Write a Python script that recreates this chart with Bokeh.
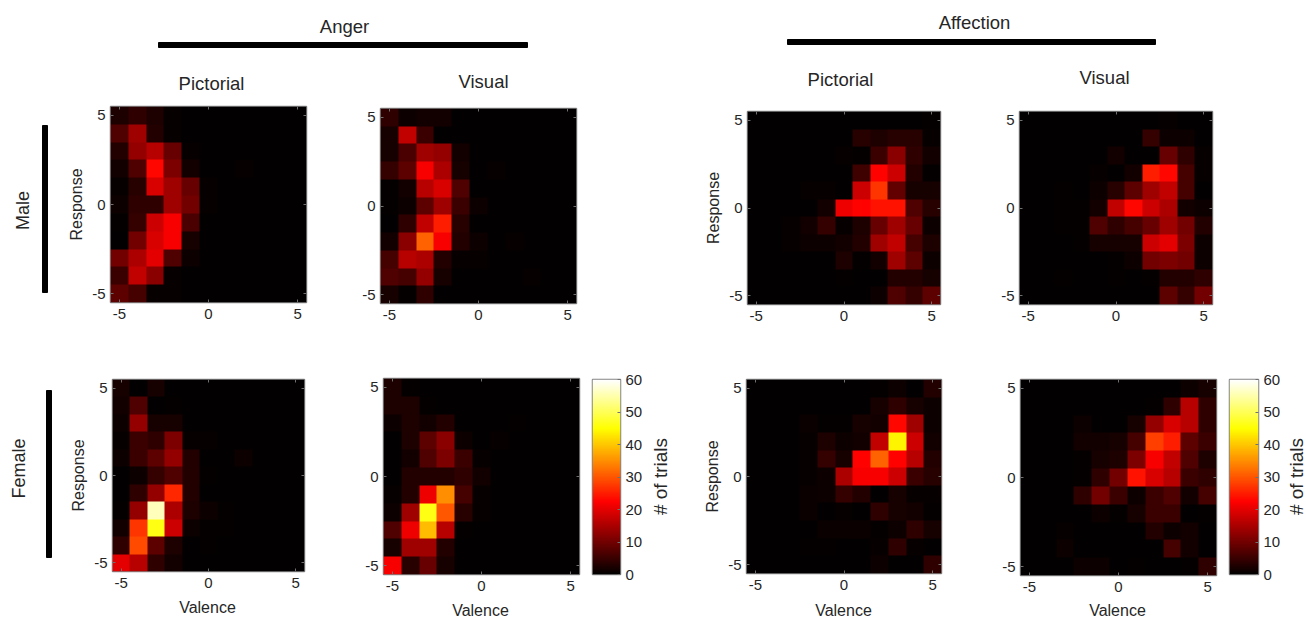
import numpy as np
from bokeh.plotting import figure
from bokeh.layouts import row, column
from bokeh.models import LinearColorMapper, FixedTicker, Label, Spacer, LinearAxis
from bokeh.embed import file_html
from bokeh.resources import INLINE

# rows run from response +5 (top) to -5 (bottom); columns from valence -5 to +5
anger_male_pictorial = [
    [2.5, 4, 2.5, 0.5, 0, 0, 0, 0, 0, 0, 0],
    [7, 14, 3, 0.5, 0, 0, 0, 0, 0, 0, 0],
    [3, 13, 16, 9, 0.5, 0, 0, 0, 0, 0, 0],
    [1.5, 7, 23, 11, 1.5, 0, 0, 0.5, 0, 0, 0],
    [0.5, 3.5, 19, 14, 9, 0.5, 0, 0, 0, 0, 0],
    [1, 4, 4, 14, 10, 0.5, 0, 0, 0, 0, 0],
    [0.3, 4.5, 18, 22, 6.5, 0, 0, 0, 0, 0, 0],
    [0.2, 10, 19, 22, 2, 0, 0, 0, 0, 0, 0],
    [10, 15, 20, 7, 1, 0, 0, 0, 0, 0, 0],
    [5, 17, 12, 0.5, 0, 0, 0, 0, 0, 0, 0],
    [8, 6, 0.5, 0.5, 0, 0, 0, 0, 0, 0, 0],
]
anger_male_visual = [
    [4, 1, 1.5, 1.5, 0, 0, 0, 0, 0, 0, 0],
    [2, 17, 5, 0, 0, 0, 0, 0, 0, 0, 0],
    [2, 6.5, 14, 13, 1.5, 0, 0, 0, 0, 0, 0],
    [4.5, 8, 22, 15, 2, 0, 0.5, 0, 0, 0, 0],
    [0.3, 1.5, 16, 19, 7, 0, 0, 0, 0, 0, 0],
    [0.3, 1, 8, 14, 5, 1, 0, 0, 0, 0, 0],
    [0, 4, 17, 25, 3.5, 0, 0, 0, 0, 0, 0],
    [1.5, 12, 31, 22, 3, 1, 0, 0.5, 0, 0, 0],
    [6, 16, 15, 3, 0.5, 0.5, 0, 0, 0, 0, 0],
    [7, 6, 13, 2, 0, 0, 0, 0, 0.5, 0, 0],
    [2, 0.3, 4, 0, 0, 0, 0, 0, 0, 0, 0],
]
affection_male_pictorial = [
    [0, 0, 0, 0, 0, 0, 0, 0, 0, 0, 0.3],
    [0, 0, 0, 0, 0, 0, 3.5, 2.5, 3.5, 3.5, 0.5],
    [0, 0, 0, 0, 0, 0.5, 0.3, 5, 12, 4, 1.5],
    [0, 0, 0, 0, 0, 0, 5.5, 22.5, 18, 3, 0.3],
    [0, 0, 0, 0.5, 0.5, 0.2, 18, 27, 8.5, 2, 2],
    [0, 0, 0, 0, 1.5, 21, 22.5, 24, 24, 7, 3.5],
    [0, 0, 0.5, 1.5, 4.5, 0.5, 2.5, 9, 14, 9, 1],
    [0, 0, 0.5, 1, 1, 1.5, 3, 14, 17, 6, 2.5],
    [0, 0, 0, 0, 0, 2.5, 0.3, 1.5, 14, 8, 1],
    [0, 0, 0, 0, 0, 0.3, 0, 0, 3, 3, 2],
    [0, 0, 0, 0, 0, 0, 0, 1, 7, 4.5, 8],
]
affection_male_visual = [
    [0, 0, 0, 0, 0, 0, 0, 0, 0.5, 0, 0],
    [0, 0, 0, 0, 0, 0, 0, 4.5, 1, 1, 0.2],
    [0, 0, 0, 0, 0, 1.5, 0, 0, 9, 4, 0.5],
    [0, 0, 0, 0, 0.5, 0.2, 1.5, 25, 23, 6, 0.5],
    [0, 0, 0.3, 0, 1, 3.5, 8, 14, 17, 6, 0.1],
    [0, 0, 0.3, 0.3, 1.5, 17, 23, 18, 15, 1.5, 1],
    [0, 0, 0.3, 0.3, 7, 4, 6, 9, 14, 10, 3],
    [0, 0, 0, 0.3, 2, 2, 2, 18, 20, 11, 1],
    [0, 0, 0, 0, 0, 0.3, 1, 10, 11, 10, 1],
    [0, 0, 0.3, 0, 0, 0.3, 0, 0.3, 3, 3, 4],
    [0, 0, 0, 0, 0, 0, 0, 0, 8, 4.5, 10],
]
anger_female_pictorial = [
    [2, 0, 2, 0, 0, 0, 0, 0, 0, 0, 0],
    [1.5, 7, 0, 0.3, 0, 0, 0, 0, 0, 0, 0],
    [1, 13, 2, 2, 0, 0, 0, 0, 0, 0, 0],
    [0.5, 5, 4, 11, 0.7, 0.5, 0, 0, 0, 0, 0],
    [1, 5, 8, 13, 3, 0, 0, 1, 0, 0, 0],
    [0, 1, 4.5, 7, 3, 0.3, 0, 0, 0, 0, 0],
    [0, 4, 13, 26, 3, 0, 0, 0, 0, 0, 0],
    [0.3, 13, 56, 15, 2.5, 1, 0.4, 0, 0, 0, 0],
    [1.5, 27, 46, 18, 1, 0.3, 0.3, 0, 0, 0, 0],
    [4, 29, 8, 2.5, 0, 0.3, 0, 0, 0, 0, 0],
    [20, 16, 4, 1.5, 0, 0, 0, 0, 0, 0, 0],
]
anger_female_visual = [
    [2.5, 0.4, 0, 0, 0, 0, 0, 0, 0, 0, 0],
    [2.5, 2.5, 0.3, 0, 0, 0, 0, 0, 0, 0, 0],
    [1, 2.5, 1.5, 3, 0, 0, 0, 0.3, 0, 0, 0],
    [0, 2.5, 8, 12, 1, 0, 0.5, 0, 0, 0, 0],
    [0, 1.5, 7, 11, 5, 0.7, 0, 0, 0, 0, 0],
    [0.2, 3, 3, 3, 4, 1.5, 0, 0, 0, 0, 0],
    [0.5, 3, 21, 35, 6, 0.5, 0, 0, 0, 0, 0],
    [1, 14, 46, 30, 3.5, 0.5, 0, 0, 0, 0, 0],
    [7, 21, 39, 16, 0.3, 0, 0, 0, 0, 0, 0],
    [2, 14, 14, 3, 0, 0, 0, 0, 0, 0, 0],
    [22, 3.5, 9, 2, 0, 0, 0, 0, 0, 0, 0],
]
affection_female_pictorial = [
    [0, 0, 0, 0, 0, 0, 0, 0.3, 1, 0.2, 3],
    [0, 0, 0.2, 0, 0, 0.2, 0.2, 2, 4, 2, 1],
    [0, 0, 0, 0.8, 0.3, 0.3, 2, 1.5, 23, 14, 1],
    [0, 0, 0.2, 0.5, 2.5, 1, 1.5, 17, 44, 18, 1.5],
    [0, 0, 0.2, 0.7, 4.5, 2, 22.5, 31, 22.5, 16, 3],
    [0, 0, 0, 0.7, 1, 15, 22, 22, 18, 5, 3.5],
    [0, 0, 0, 0.8, 1, 4.5, 3, 0, 2, 0.7, 0.7],
    [0, 0, 0, 0.8, 0.2, 0.7, 0.2, 4, 2, 1.5, 0.3],
    [0, 0, 0, 0, 0.8, 0.8, 0.8, 0.3, 1, 4, 2],
    [0, 0, 0.2, 0.3, 0.3, 0, 0, 0.7, 4, 0.7, 0],
    [0, 0, 0, 0.2, 0.2, 0, 0, 1, 0, 0.2, 4],
]
affection_female_visual = [
    [0, 0, 0, 0, 0, 0, 0, 0, 0, 1, 2],
    [0, 0, 0, 0, 0, 0.2, 0, 0.3, 4, 16, 4],
    [0, 0, 0, 1, 0, 0.2, 2, 13, 19, 16, 4],
    [0, 0.2, 0, 1.5, 1.5, 2, 6, 28, 25, 8, 5],
    [0, 0, 0.2, 0.3, 2, 2.5, 11, 22, 17, 7, 2.5],
    [0, 0, 0, 0.4, 4, 10, 24, 19, 16, 5, 4],
    [0, 0, 0, 4, 10, 5, 1, 5, 7, 1.5, 6],
    [0, 0, 0, 0, 1, 0.3, 2, 5, 5, 0, 0.3],
    [0, 0, 0.5, 0, 0.2, 0.2, 0, 3, 1, 1.5, 0],
    [0, 0, 1, 0, 0, 0, 0, 0, 6, 1.5, 0.2],
    [0, 0, 0, 1, 1, 0, 0.3, 0, 0, 0.3, 4],
]
value_ticks = [-5, 0, 5]
count_ticks = [0, 10, 20, 30, 40, 50, 60]
count_max = 60


def hot(n=256):
    n1 = int(3 / 8 * n)
    r = np.clip(np.arange(1, n + 1) / n1, 0, 1)
    g = np.clip((np.arange(1, n + 1) - n1) / n1, 0, 1)
    b = np.clip((np.arange(1, n + 1) - 2 * n1) / (n - 2 * n1), 0, 1)
    return ["#%02x%02x%02x" % (int(a * 255), int(c * 255), int(d * 255)) for a, c, d in zip(r, g, b)]


mapper = LinearColorMapper(palette=hot(), low=0, high=count_max)
FONT = "Liberation Sans"
INK = "#262626"
TOP, MID, BOT, END = 96, 350, 598, 619
PAD = 8


def style_axis(ax, ticks, label):
    ax.ticker = FixedTicker(ticks=ticks)
    ax.major_label_overrides = {t: str(t) for t in ticks}
    ax.axis_line_color = None
    ax.major_tick_line_color = "#707070"
    ax.major_tick_in = 3
    ax.major_tick_out = 0
    ax.minor_tick_line_color = None
    ax.major_label_text_font = FONT
    ax.major_label_text_font_size = "15px"
    ax.major_label_text_color = INK
    ax.major_label_standoff = 5
    if label:
        ax.axis_label = label
        ax.axis_label_text_font = FONT
        ax.axis_label_text_font_size = "16px"
        ax.axis_label_text_font_style = "normal"
        ax.axis_label_text_color = INK
        ax.axis_label_standoff = 4


def frame_fig(x0, x1, y0, y1, l, t, r, b, **kw):
    p = figure(width=x1 - x0, height=y1 - t + PAD, output_backend="svg", toolbar_location=None,
               min_border_left=l - x0, min_border_right=x1 - r,
               min_border_top=PAD, min_border_bottom=y1 - b, **kw)
    p.grid.visible = False
    p.outline_line_color = "#858585"
    p.outline_line_width = 1.5
    p.background_fill_color = "black"
    return p


def placed(p, x0, x1, y0, t):
    return column(Spacer(width=x1 - x0, height=t - y0 - PAD), p)


def note(p, x, y, text, size="18.5px", angle=0):
    p.add_layout(Label(x=x, y=y, text=text, text_font=FONT, text_font_size=size, text_color=INK,
                       text_align="center", text_baseline="middle", angle=angle, angle_units="deg"))


def panel(data, x0, x1, y0, y1, l, t, r, b, ylabel=None):
    p = frame_fig(x0, x1, y0, y1, l, t, r, b, x_range=(-5.5, 5.5), y_range=(-5.5, 5.5))
    p.image(image=[np.flipud(np.array(data, dtype=float))], x=-5.5, y=-5.5, dw=11, dh=11, color_mapper=mapper)
    style_axis(p.xaxis[0], value_ticks, None)
    style_axis(p.yaxis[0], value_ticks, ylabel)
    p.xaxis[0].major_label_standoff = 6
    p.yaxis[0].major_label_standoff = 5
    for side_name in ("above", "right"):
        twin = LinearAxis()
        style_axis(twin, value_ticks, None)
        twin.major_label_overrides = {t_: "" for t_ in value_ticks}
        p.add_layout(twin, side_name)
    return placed(p, x0, x1, y0, t)


def colorbar(x0, x1, y0, y1, l, t, r, b):
    p = frame_fig(x0, x1, y0, y1, l, t, r, b, x_range=(0, 1), y_range=(0, count_max), y_axis_location="right")
    levels = np.linspace(0, count_max, 256).reshape(-1, 1)
    p.image(image=[levels], x=0, y=0, dw=1, dh=count_max, color_mapper=mapper)
    p.xaxis.visible = False
    style_axis(p.yaxis[0], count_ticks, None)
    return placed(p, x0, x1, y0, t)


def canvas(x0, x1, y0, y1):
    p = figure(width=x1 - x0, height=y1 - y0, output_backend="svg", toolbar_location=None,
               x_range=(x0, x1), y_range=(y1, y0), min_border=0,
               x_axis_location=None, y_axis_location=None)
    p.grid.visible = False
    p.outline_line_color = None
    return p


def count_title(x0, x1, cx):
    p = canvas(x0, x1, MID, BOT)
    note(p, cx, 476, "# of trials", "19px", 90)
    return column(p)


# left strip: group labels and bars
side = canvas(0, 62, 0, 619)
side.quad(left=[42, 46], right=[47, 51], top=[125, 390], bottom=[292, 557], color="black")
note(side, 22, 210, "Male", "18px", 90)
note(side, 18, 468, "Female", "18px", 90)

# header strip: emotions and modality labels
head = canvas(62, 1306, 0, 96)
head.quad(left=[158, 787], right=[527, 1155], top=[42, 39], bottom=[47, 44], color="black")
note(head, 344, 26, "Anger")
note(head, 974, 22, "Affection")
note(head, 211, 83, "Pictorial")
note(head, 483, 81, "Visual")
note(head, 840, 79, "Pictorial")
note(head, 1104, 77, "Visual")

row1 = row(
    panel(anger_male_pictorial, 62, 335, TOP, MID, 110, 106, 306, 302, ylabel="Response"),
    panel(anger_male_visual, 335, 700, TOP, MID, 380, 108, 576, 303),
    panel(affection_male_pictorial, 700, 965, TOP, MID, 747, 111, 940, 304, ylabel="Response"),
    panel(affection_male_visual, 965, 1306, TOP, MID, 1019, 111, 1212, 304),
)
row2 = row(
    panel(anger_female_pictorial, 62, 335, MID, BOT, 112, 379, 304, 571, ylabel="Response"),
    panel(anger_female_visual, 335, 585, MID, BOT, 383, 378, 579, 574),
    colorbar(585, 648, MID, BOT, 592, 379, 620, 574),
    count_title(648, 700, 660),
    panel(affection_female_pictorial, 700, 965, MID, BOT, 746, 379, 941, 573, ylabel="Response"),
    panel(affection_female_visual, 965, 1223, MID, BOT, 1020, 379, 1216, 575),
    colorbar(1223, 1286, MID, BOT, 1229, 379, 1258, 574),
    count_title(1286, 1306, 1296),
)

# bottom strip: the shared horizontal label of each lower panel
foot = canvas(62, 1306, BOT, END)
note(foot, 207, 607, "Valence", "16px")
note(foot, 480, 610, "Valence", "16px")
note(foot, 843, 610, "Valence", "16px")
note(foot, 1117, 610, "Valence", "16px")

root = row(side, column(head, row1, row2, foot))

open("out.html", "w").write(file_html(root, INLINE))
